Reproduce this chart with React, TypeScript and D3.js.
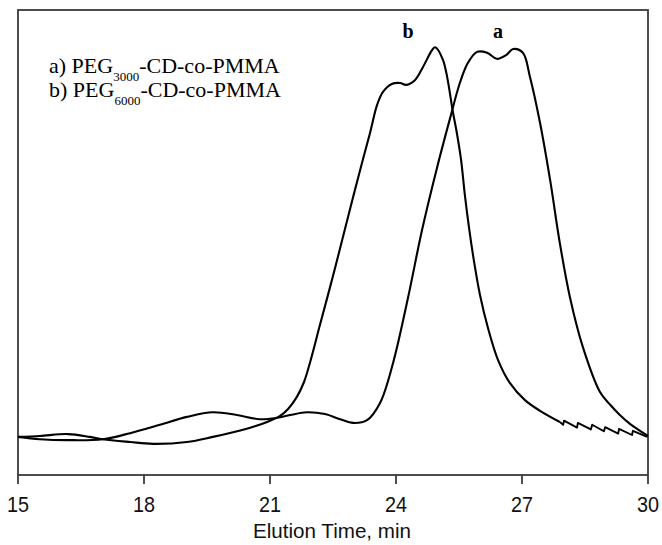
import React from "react";
import * as d3 from "d3";

// Elution time (min) and detector signal (arbitrary units)
const seriesA: [number, number][] = [
  [15.0, 8.2], [15.52, 7.7], [16.19, 7.5], [17.02, 7.7], [17.67, 9.0], [18.38, 10.8],
  [19.02, 12.5], [19.64, 13.5], [20.21, 12.9], [20.76, 12.0], [21.17, 12.3], [21.48, 12.9],
  [21.88, 13.5], [22.31, 13.1], [22.67, 12.0], [22.98, 11.2], [23.31, 11.8], [23.62, 15.5],
  [23.93, 24.1], [24.29, 38.3], [24.62, 52.7], [24.98, 66.2], [25.29, 76.8], [25.52, 84.3],
  [25.71, 88.6], [25.93, 91.0], [26.17, 90.8], [26.4, 89.5], [26.62, 90.3], [26.79, 91.6],
  [27.02, 90.8], [27.19, 85.6], [27.43, 75.7], [27.67, 63.4], [27.9, 49.9], [28.14, 38.3],
  [28.45, 27.5], [28.86, 17.8], [29.1, 15.1], [29.33, 12.9], [29.57, 11.0], [29.81, 9.5],
  [30.0, 8.4],
];

const seriesBMain: [number, number][] = [
  [15.0, 8.2], [15.52, 8.4], [16.19, 8.8], [16.71, 8.2], [17.02, 7.7], [17.67, 7.1],
  [18.21, 6.7], [19.02, 7.1], [19.64, 8.2], [20.12, 9.2], [20.64, 10.5], [20.93, 11.4],
  [21.24, 12.7], [21.43, 14.2], [21.64, 16.8], [21.81, 20.0], [21.95, 24.1], [22.19, 32.3],
  [22.43, 40.4], [22.67, 48.8], [22.9, 57.0], [23.14, 65.4], [23.38, 73.5], [23.55, 79.6],
  [23.69, 82.4], [23.9, 84.1], [24.1, 84.3], [24.24, 83.9], [24.45, 84.9],
  [24.64, 87.7], [24.86, 91.4], [24.93, 92.0], [25.12, 89.2], [25.36, 77.8], [25.45, 73.5],
  [25.55, 67.7], [25.64, 60.2], [25.74, 53.1], [25.86, 45.8], [26.0, 38.7], [26.19, 31.6],
  [26.43, 24.7], [26.71, 19.8], [27.07, 16.1], [27.43, 13.8], [27.9, 11.4],
];

const seriesBTail: [number, number][] = [
  [27.9, 11.4], [27.98, 10.8], [28.0, 11.7], [28.31, 10.2], [28.33, 11.2], [28.64, 9.8],
  [28.67, 10.8], [28.95, 9.4], [28.98, 10.3], [29.29, 8.9], [29.31, 9.9], [29.62, 8.6],
  [29.64, 9.5], [29.98, 8.2],
];

const xTicks = [15, 18, 21, 24, 27, 30];
const xTitle = "Elution Time, min";
const legendA = { prefix: "a) PEG", sub: "3000", suffix: "-CD-co-PMMA" };
const legendB = { prefix: "b) PEG", sub: "6000", suffix: "-CD-co-PMMA" };
const peakLabels: { label: string; x: number }[] = [
  { label: "b", x: 24.29 },
  { label: "a", x: 26.43 },
];

export default function App() {
  const W = 662, H = 545;
  const left = 18, right = 648, top = 10, bottom = 475;
  const x = d3.scaleLinear().domain([15, 30]).range([left, right]);
  const y = d3.scaleLinear().domain([0, 100]).range([bottom, top]);

  const smooth = d3.line<[number, number]>()
    .x((d) => x(d[0]))
    .y((d) => y(d[1]))
    .curve(d3.curveCatmullRom.alpha(0.5));
  const straight = d3.line<[number, number]>()
    .x((d) => x(d[0]))
    .y((d) => y(d[1]));

  const frame = "#3a3a3a";

  return (
    <svg width={W} height={H} style={{ display: "block", position: "absolute", left: 0, top: 0 }}>
      <rect x={0} y={0} width={W} height={H} fill="#fff" />
      <rect x={left} y={top} width={right - left} height={bottom - top} fill="none" stroke={frame} strokeWidth={1.8} />
      {xTicks.map((t) => (
        <g key={t}>
          <line x1={x(t)} x2={x(t)} y1={bottom} y2={bottom + 9} stroke={frame} strokeWidth={1.8} />
          <text x={x(t)} y={512} textAnchor="middle" fontFamily="Liberation Sans, Arial, sans-serif" fontSize={22}
            transform={`translate(${x(t)},0) scale(0.9,1) translate(${-x(t)},0)`} fill="#111">
            {t}
          </text>
        </g>
      ))}
      <text x={332} y={538} textAnchor="middle" fontFamily="Liberation Sans, Arial, sans-serif" fontSize={21}
        textLength={158} lengthAdjust="spacingAndGlyphs" fill="#111">
        {xTitle}
      </text>

      <path d={smooth(seriesA) || ""} fill="none" stroke="#000" strokeWidth={2.1} strokeLinejoin="round" />
      <path d={smooth(seriesBMain) || ""} fill="none" stroke="#000" strokeWidth={2.1} strokeLinejoin="round" />
      <path d={straight(seriesBTail) || ""} fill="none" stroke="#000" strokeWidth={1.9} strokeLinejoin="round" />

      {peakLabels.map((p) => (
        <text key={p.label} x={x(p.x)} y={38} textAnchor="middle" fontFamily="Liberation Serif, Times New Roman, serif"
          fontWeight="bold" fontSize={20} fill="#000">
          {p.label}
        </text>
      ))}

      {[legendA, legendB].map((l, i) => (
        <text key={i} x={49} y={73 + i * 24} fontFamily="Liberation Serif, Times New Roman, serif" fontSize={22} fill="#000">
          {l.prefix}
          <tspan fontSize={13} dy={8}>{l.sub}</tspan>
          <tspan dy={-8}>{l.suffix}</tspan>
        </text>
      ))}
    </svg>
  );
}
